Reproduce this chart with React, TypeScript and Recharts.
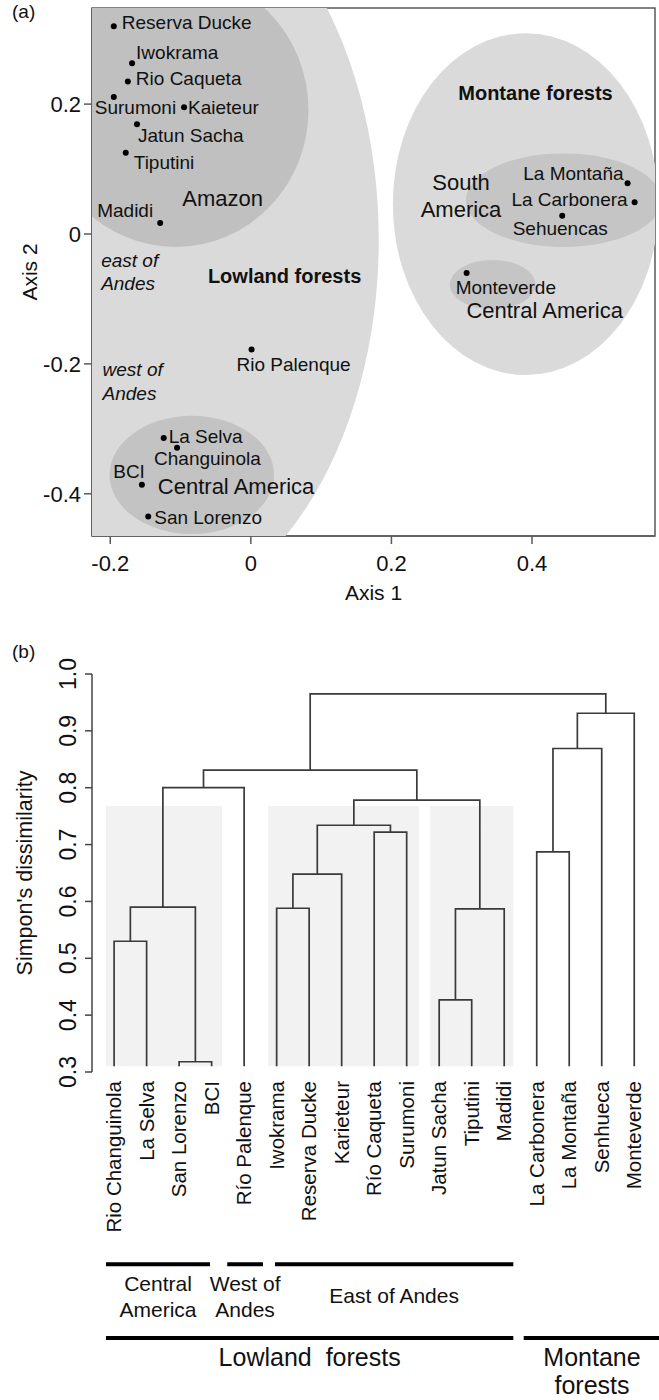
import React from 'react';
import {
  ScatterChart,
  ComposedChart,
  Scatter,
  Line,
  XAxis,
  YAxis,
  ReferenceArea,
  ReferenceLine,
} from 'recharts';

const FONT = '"Liberation Sans", Arial, Helvetica, sans-serif';
const NARROW = '"Liberation Sans Narrow", "Arial Narrow", "Liberation Sans", Arial, sans-serif';

/* ---------------- Panel (a): ordination ---------------- */
const siteNames = [
  'Reserva Ducke', 'Iwokrama', 'Rio Caqueta', 'Surumoni', 'Kaieteur', 'Jatun Sacha',
  'Tiputini', 'Madidi', 'Rio Palenque', 'La Selva', 'Changuinola', 'BCI', 'San Lorenzo',
  'La Montaña', 'La Carbonera', 'Sehuencas', 'Monteverde',
];
const siteAxis1 = [
  -0.195, -0.169, -0.175, -0.195, -0.095, -0.162, -0.178, -0.129, 0.001, -0.124, -0.105,
  -0.155, -0.146, 0.536, 0.546, 0.443, 0.307,
];
const siteAxis2 = [
  0.32, 0.263, 0.235, 0.211, 0.195, 0.169, 0.125, 0.017, -0.178, -0.314, -0.329, -0.386,
  -0.435, 0.078, 0.049, 0.028, -0.06,
];

const regionNames = [
  'Lowland forests', 'Montane forests', 'Amazon', 'Lowland Central America',
  'Montane South America', 'Montane Central America',
];
const regionCentre1 = [-0.173, 0.391, -0.107, -0.084, 0.445, 0.344];
const regionCentre2 = [-0.009, 0.046, 0.191, -0.371, 0.052, -0.078];
const regionRadius1 = [0.355, 0.189, 0.189, 0.117, 0.139, 0.061];
const regionRadius2 = [0.585, 0.263, 0.211, 0.091, 0.072, 0.038];

const noteTexts = [
  ['Amazon'], ['Lowland forests'], ['east of', 'Andes'], ['west of', 'Andes'],
  ['Central America'], ['Montane forests'], ['South', 'America'], ['Central America'],
];
const noteAxis1 = [-0.04, 0.048, -0.213, -0.211, -0.021, 0.405, 0.299, 0.418];
const noteAxis2 = [0.055, -0.065, -0.04, -0.208, -0.389, 0.217, 0.08, -0.117];

const axis1Ticks = [-0.2, 0, 0.2, 0.4];
const axis2Ticks = [-0.4, -0.2, 0, 0.2];
const axis1Domain: [number, number] = [-0.226, 0.575];
const axis2Domain: [number, number] = [-0.465, 0.348];

/* ---------------- Panel (b): dendrogram ---------------- */
const leafNames = [
  'Rio Changuinola', 'La Selva', 'San Lorenzo', 'BCI', 'Río Palenque', 'Iwokrama',
  'Reserva Ducke', 'Karieteur', 'Río Caqueta', 'Surumoni', 'Jatun Sacha', 'Tiputini',
  'Madidi', 'La Carbonera', 'La Montaña', 'Senhueca', 'Monteverde',
];
const mergeLeft = [
  'Rio Changuinola', 'San Lorenzo', 'm1', 'm3', 'Iwokrama', 'm5', 'Río Caqueta', 'm6',
  'Jatun Sacha', 'm9', 'm8', 'm4', 'La Carbonera', 'm13', 'm14', 'm12',
];
const mergeRight = [
  'La Selva', 'BCI', 'm2', 'Río Palenque', 'Reserva Ducke', 'Karieteur', 'Surumoni', 'm7',
  'Tiputini', 'Madidi', 'm10', 'm11', 'La Montaña', 'Senhueca', 'Monteverde', 'm15',
];
const mergeHeight = [
  0.53, 0.318, 0.59, 0.80, 0.588, 0.648, 0.722, 0.734, 0.427, 0.587, 0.778, 0.831, 0.687,
  0.869, 0.931, 0.965,
];
const leafBase = 0.31;
const dissimTicks = [0.3, 0.4, 0.5, 0.6, 0.7, 0.8, 0.9, 1.0];

const shadeStart = [-0.25, 4.74, 9.72];
const shadeEnd = [3.32, 9.38, 12.28];
const shadeTop = 0.768;

const regionGroupLines = [['Central', 'America'], ['West of', 'Andes'], ['East of Andes']];
const regionGroupStart = [-0.25, 3.48, 4.95];
const regionGroupEnd = [2.95, 4.58, 12.28];
const forestGroupLines = [['Lowland  forests'], ['Montane', 'forests']];
const forestGroupStart = [-0.25, 12.6];
const forestGroupEnd = [12.28, 16.8];
const regionRowLevel = -0.038;
const forestRowLevel = -0.168;

/* ---------------- derived tables ---------------- */
const siteRows = siteNames.map((name, i) => ({ name, x: siteAxis1[i], y: siteAxis2[i] }));
const regionRows = regionNames.map((name, i) => ({
  name, x: regionCentre1[i], y: regionCentre2[i], r1: regionRadius1[i], r2: regionRadius2[i],
}));
const noteRows = noteTexts.map((lines, i) => ({ lines, x: noteAxis1[i], y: noteAxis2[i], idx: i }));

const nodeX: Record<string, number> = {};
const nodeH: Record<string, number> = {};
leafNames.forEach((n, i) => { nodeX[n] = i; nodeH[n] = leafBase; });
const linkRows = mergeHeight.map((h, k) => {
  const a = mergeLeft[k];
  const b = mergeRight[k];
  const pts = [
    { x: nodeX[a], y: nodeH[a] },
    { x: nodeX[a], y: h },
    { x: nodeX[b], y: h },
    { x: nodeX[b], y: nodeH[b] },
  ];
  const id = 'm' + (k + 1);
  nodeX[id] = (nodeX[a] + nodeX[b]) / 2;
  nodeH[id] = h;
  return pts;
});

/* ---------------- layout / styles ---------------- */
const A_W = 659;
const A_H = 620;
const A_MARGIN = { top: 8, right: 4, left: 0, bottom: 0 };
const A_YW = 92;
const A_XH = 84;
const aPlotW = A_W - A_MARGIN.left - A_MARGIN.right - A_YW;
const aPlotH = A_H - A_MARGIN.top - A_MARGIN.bottom - A_XH;
const pxPerX = aPlotW / (axis1Domain[1] - axis1Domain[0]);
const pxPerY = aPlotH / (axis2Domain[1] - axis2Domain[0]);

const regionFill: Record<string, string> = {
  'Lowland forests': '#dadada',
  'Montane forests': '#dadada',
  Amazon: '#c0c0c0',
  'Lowland Central America': '#c3c3c3',
  'Montane South America': '#c5c5c5',
  'Montane Central America': '#c5c5c5',
};

const siteLabel: Record<string, { dx: number; dy: number; anchor: 'start' | 'middle' | 'end' }> = {
  'Reserva Ducke': { dx: 8, dy: -4, anchor: 'start' },
  Iwokrama: { dx: 4, dy: -11, anchor: 'start' },
  'Rio Caqueta': { dx: 8, dy: -3, anchor: 'start' },
  Surumoni: { dx: -19, dy: 10, anchor: 'start' },
  Kaieteur: { dx: 4, dy: 0, anchor: 'start' },
  'Jatun Sacha': { dx: 1, dy: 11, anchor: 'start' },
  Tiputini: { dx: 8, dy: 10, anchor: 'start' },
  Madidi: { dx: -7, dy: -13, anchor: 'end' },
  'Rio Palenque': { dx: -15, dy: 15, anchor: 'start' },
  'La Selva': { dx: 5, dy: -2, anchor: 'start' },
  Changuinola: { dx: -23, dy: 11, anchor: 'start' },
  BCI: { dx: 3, dy: -13, anchor: 'end' },
  'San Lorenzo': { dx: 6, dy: 1, anchor: 'start' },
  'La Montaña': { dx: -4, dy: -10, anchor: 'end' },
  'La Carbonera': { dx: -7, dy: -3, anchor: 'end' },
  Sehuencas: { dx: -2, dy: 13, anchor: 'middle' },
  Monteverde: { dx: -11, dy: 14, anchor: 'start' },
};

const noteStyle = [
  { size: 22, weight: 'normal', style: 'normal', anchor: 'middle', lh: 26 },
  { size: 20, weight: 'bold', style: 'normal', anchor: 'middle', lh: 24 },
  { size: 19, weight: 'normal', style: 'italic', anchor: 'start', lh: 23 },
  { size: 19, weight: 'normal', style: 'italic', anchor: 'start', lh: 24 },
  { size: 22, weight: 'normal', style: 'normal', anchor: 'middle', lh: 26 },
  { size: 20, weight: 'bold', style: 'normal', anchor: 'middle', lh: 24 },
  { size: 22, weight: 'normal', style: 'normal', anchor: 'middle', lh: 27 },
  { size: 22, weight: 'normal', style: 'normal', anchor: 'middle', lh: 26 },
];

const AXIS_GREY = '#5a5a5a';
const LINK = '#3a3a3a';

const B_W = 659;
const B_H = 780;
const B_TOP = 620;
const B_MARGIN = { top: 54, right: 2, left: 0, bottom: 0 };
const B_YW = 92;
const B_XH = 328;

/* ---------------- shapes ---------------- */
const EllipseShape = (p: any) => {
  const d = p.payload;
  return (
    <ellipse
      cx={p.cx}
      cy={p.cy}
      rx={d.r1 * pxPerX}
      ry={d.r2 * pxPerY}
      fill={regionFill[d.name]}
      stroke="none"
    />
  );
};

const SiteShape = (p: any) => {
  const d = p.payload;
  const lab = siteLabel[d.name];
  return (
    <g>
      <circle cx={p.cx} cy={p.cy} r={3} fill="#000" />
      <text
        x={p.cx + lab.dx}
        y={p.cy + lab.dy}
        dy="0.35em"
        textAnchor={lab.anchor}
        fontSize={19}
        fontFamily={FONT}
        fill="#111"
      >
        {d.name}
      </text>
    </g>
  );
};

const NoteShape = (p: any) => {
  const d = p.payload;
  const s = noteStyle[d.idx];
  return (
    <text
      x={p.cx}
      y={p.cy}
      textAnchor={s.anchor}
      fontSize={s.size}
      fontWeight={s.weight}
      fontStyle={s.style}
      fontFamily={FONT}
      fill="#111"
    >
      {d.lines.map((l: string, i: number) => (
        <tspan key={i} x={p.cx} dy={i === 0 ? '0.35em' : s.lh}>
          {l}
        </tspan>
      ))}
    </text>
  );
};

const fmt = (v: number) => (v === 0 ? '0' : String(v));

const DissimTick = (p: any) => {
  const cx = p.x - 15;
  return (
    <text
      x={cx}
      y={p.y}
      dy="0.35em"
      textAnchor="middle"
      transform={`rotate(-90 ${cx} ${p.y})`}
      fontSize={23}
      fontFamily={NARROW}
      fill="#111"
    >
      {p.payload.value.toFixed(1)}
    </text>
  );
};

const LeafTick = (p: any) => {
  const name = leafNames[p.payload.value];
  const y = p.y + 9;
  return (
    <text
      x={p.x}
      y={y}
      dy="0.35em"
      textAnchor="end"
      transform={`rotate(-90 ${p.x} ${y})`}
      fontSize={20.5}
      fontFamily={FONT}
      fill="#111"
    >
      {name}
    </text>
  );
};

const groupLabel = (lines: string[], firstOffset: number, lh: number, size: number) => (props: any) => {
  const vb = props.viewBox || {};
  const cx = vb.x + (vb.width || 0) / 2;
  const y0 = vb.y + firstOffset;
  return (
    <text textAnchor="middle" fontSize={size} fontFamily={FONT} fill="#111" style={{ whiteSpace: 'pre' }}>
      {lines.map((l, i) => (
        <tspan key={i} x={cx} y={y0 + i * lh} dy="0.35em">
          {l}
        </tspan>
      ))}
    </text>
  );
};

export default function App() {
  const leafTicks = leafNames.map((_, i) => i);
  return (
    <div
      style={{
        position: 'absolute',
        left: 0,
        top: 0,
        width: 659,
        height: 1400,
        background: '#fff',
        fontFamily: FONT,
        overflow: 'hidden',
      }}
    >
      <div style={{ position: 'absolute', left: 12, top: 1, fontSize: 19, color: '#111' }}>(a)</div>
      <div style={{ position: 'absolute', left: 12, top: 641, fontSize: 19, color: '#111' }}>(b)</div>

      <div style={{ position: 'absolute', left: 0, top: 0 }}>
        <ScatterChart width={A_W} height={A_H} margin={A_MARGIN}>
          <XAxis
            type="number"
            dataKey="x"
            domain={axis1Domain}
            allowDataOverflow
            ticks={axis1Ticks}
            tickFormatter={fmt}
            height={A_XH}
            tickSize={8}
            tickMargin={11}
            tick={{ fontSize: 22, fill: '#111', fontFamily: FONT }}
            axisLine={{ stroke: AXIS_GREY, strokeWidth: 1.5 }}
            tickLine={{ stroke: AXIS_GREY, strokeWidth: 1.5 }}
            label={{
              content: (p: any) => {
                const vb = p.viewBox;
                return (
                  <text
                    x={vb.x + vb.width / 2}
                    y={vb.y + 57}
                    dy="0.35em"
                    textAnchor="middle"
                    fontSize={21}
                    fontFamily={FONT}
                    fill="#111"
                  >
                    Axis 1
                  </text>
                );
              },
            }}
          />
          <YAxis
            type="number"
            dataKey="y"
            domain={axis2Domain}
            allowDataOverflow
            ticks={axis2Ticks}
            tickFormatter={fmt}
            width={A_YW}
            tickSize={8}
            tickMargin={3}
            tick={{ fontSize: 22, fill: '#111', fontFamily: FONT }}
            axisLine={{ stroke: AXIS_GREY, strokeWidth: 1.5 }}
            tickLine={{ stroke: AXIS_GREY, strokeWidth: 1.5 }}
            label={{
              content: (p: any) => {
                const vb = p.viewBox;
                const cy = vb.y + vb.height / 2;
                const cx = vb.x + 30;
                return (
                  <text
                    x={cx}
                    y={cy}
                    dy="0.35em"
                    textAnchor="middle"
                    transform={`rotate(-90 ${cx} ${cy})`}
                    fontSize={21}
                    fontFamily={FONT}
                    fill="#111"
                  >
                    Axis 2
                  </text>
                );
              },
            }}
          />
          <Scatter data={regionRows} shape={EllipseShape} isAnimationActive={false} />
          <Scatter data={siteRows} shape={SiteShape} isAnimationActive={false} />
          <Scatter data={noteRows} shape={NoteShape} isAnimationActive={false} />
          <ReferenceArea
            x1={axis1Domain[0]}
            x2={axis1Domain[1]}
            y1={axis2Domain[0]}
            y2={axis2Domain[1]}
            fill="none"
            fillOpacity={0}
            stroke={AXIS_GREY}
            strokeWidth={1.5}
            ifOverflow="visible"
          />
        </ScatterChart>
      </div>

      <div style={{ position: 'absolute', left: 0, top: B_TOP }}>
        <ComposedChart width={B_W} height={B_H} margin={B_MARGIN}>
          <XAxis
            type="number"
            dataKey="x"
            domain={[-0.68, 16.7]}
            allowDataOverflow
            ticks={leafTicks}
            interval={0}
            height={B_XH}
            tickSize={0}
            tickMargin={0}
            axisLine={false}
            tickLine={false}
            tick={LeafTick}
          />
          <YAxis
            type="number"
            dataKey="y"
            domain={[0.3, 1.0]}
            allowDataOverflow
            ticks={dissimTicks}
            interval={0}
            width={B_YW}
            tickSize={7}
            tickMargin={2}
            tick={DissimTick}
            axisLine={{ stroke: '#444', strokeWidth: 1.5 }}
            tickLine={{ stroke: '#444', strokeWidth: 1.5 }}
            label={{
              content: (p: any) => {
                const vb = p.viewBox;
                const cy = vb.y + vb.height / 2;
                const cx = vb.x + 24;
                return (
                  <text
                    x={cx}
                    y={cy}
                    dy="0.35em"
                    textAnchor="middle"
                    transform={`rotate(-90 ${cx} ${cy})`}
                    fontSize={21.5}
                    fontFamily={FONT}
                    fill="#111"
                  >
                    Simpon's dissimilarity
                  </text>
                );
              },
            }}
          />
          {shadeStart.map((s, i) => (
            <ReferenceArea
              key={'sh' + i}
              x1={s}
              x2={shadeEnd[i]}
              y1={leafBase}
              y2={shadeTop}
              fill="#f2f2f2"
              fillOpacity={1}
              stroke="none"
              ifOverflow="visible"
            />
          ))}
          {linkRows.map((pts, k) => (
            <Line
              key={'lk' + k}
              data={pts}
              dataKey="y"
              type="linear"
              stroke={LINK}
              strokeWidth={1.7}
              dot={false}
              activeDot={false}
              isAnimationActive={false}
            />
          ))}
          {regionGroupLines.map((lines, i) => (
            <ReferenceLine
              key={'rg' + i}
              segment={[
                { x: regionGroupStart[i], y: regionRowLevel },
                { x: regionGroupEnd[i], y: regionRowLevel },
              ]}
              stroke="#000"
              strokeWidth={4}
              ifOverflow="visible"
              label={{ content: groupLabel(lines, lines.length > 1 ? 19 : 31, 26, 21) }}
            />
          ))}
          {forestGroupLines.map((lines, i) => (
            <ReferenceLine
              key={'fg' + i}
              segment={[
                { x: forestGroupStart[i], y: forestRowLevel },
                { x: forestGroupEnd[i], y: forestRowLevel },
              ]}
              stroke="#000"
              strokeWidth={4}
              ifOverflow="visible"
              label={{ content: groupLabel(lines, 19, 28, 25) }}
            />
          ))}
        </ComposedChart>
      </div>
    </div>
  );
}
